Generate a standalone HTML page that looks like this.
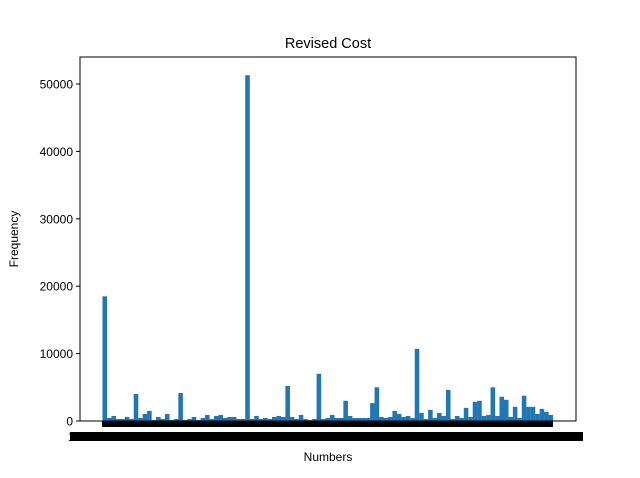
<!DOCTYPE html>
<html><head><meta charset="utf-8"><style>
body{margin:0;background:#fff;font-family:"Liberation Sans","DejaVu Sans",sans-serif}
</style></head><body>
<svg width="640" height="473" xmlns="http://www.w3.org/2000/svg">
<rect width="640" height="473" fill="#fff"/>
<g id="bars"></g>
<rect x="80" y="57" width="496" height="364" fill="none" stroke="#000" stroke-width="1"/>
<g id="yaxis"></g>
<rect x="102" y="421" width="451" height="6" fill="#000"/>
<rect x="70" y="432" width="513" height="9" fill="#000"/>
<text x="68" y="441" font-size="12">1</text>
<text x="328" y="461" font-size="12" text-anchor="middle">Numbers</text>
<text x="18" y="239" font-size="12" text-anchor="middle" transform="rotate(-90 18 239)">Frequency</text>
<text x="328" y="48" font-size="14.5" text-anchor="middle">Revised Cost</text>
</svg>
<script>
const counts=[18500,450,750,300,300,600,300,4000,450,1050,1500,150,600,300,1050,150,300,4150,150,300,600,150,450,900,300,750,900,450,600,600,300,300,51300,300,750,300,450,300,600,750,600,5200,600,300,900,300,150,300,7000,300,450,900,450,450,3000,750,450,450,450,450,2650,5000,600,450,600,1500,1050,600,750,450,10700,1200,300,1650,450,1200,750,4600,300,750,450,1950,600,2850,3000,750,900,5000,750,3600,3150,600,2100,450,3750,2100,2100,1050,1800,1350,900];
const yTicks=[0,10000,20000,30000,40000,50000];
const x0=102.5,x1=553,y0=421,pxPer=67.4/10000;
const yS=v=>y0-v*pxPer;
const bw=(x1-x0)/counts.length;
const NS="http://www.w3.org/2000/svg";
const g=document.getElementById('bars');
counts.forEach((c,i)=>{
 const r=document.createElementNS(NS,'rect');
 r.setAttribute('x',x0+i*bw);r.setAttribute('width',bw+0.1);
 r.setAttribute('y',yS(c));r.setAttribute('height',y0-yS(c));
 r.setAttribute('fill','#1f77b4');
 
 
 g.appendChild(r);
});
const ya=document.getElementById('yaxis');
yTicks.forEach(t=>{
 const y=yS(t);
 const l=document.createElementNS(NS,'line');
 l.setAttribute('x1',76);l.setAttribute('x2',80);l.setAttribute('y1',y);l.setAttribute('y2',y);l.setAttribute('stroke','#000');
 
 
 ya.appendChild(l);
 const tx=document.createElementNS(NS,'text');
 tx.setAttribute('x',73);tx.setAttribute('y',y+4.5);tx.setAttribute('text-anchor','end');tx.setAttribute('font-size','12');
 tx.textContent=t;
 
 
 ya.appendChild(tx);
});
</script>
</body></html>
